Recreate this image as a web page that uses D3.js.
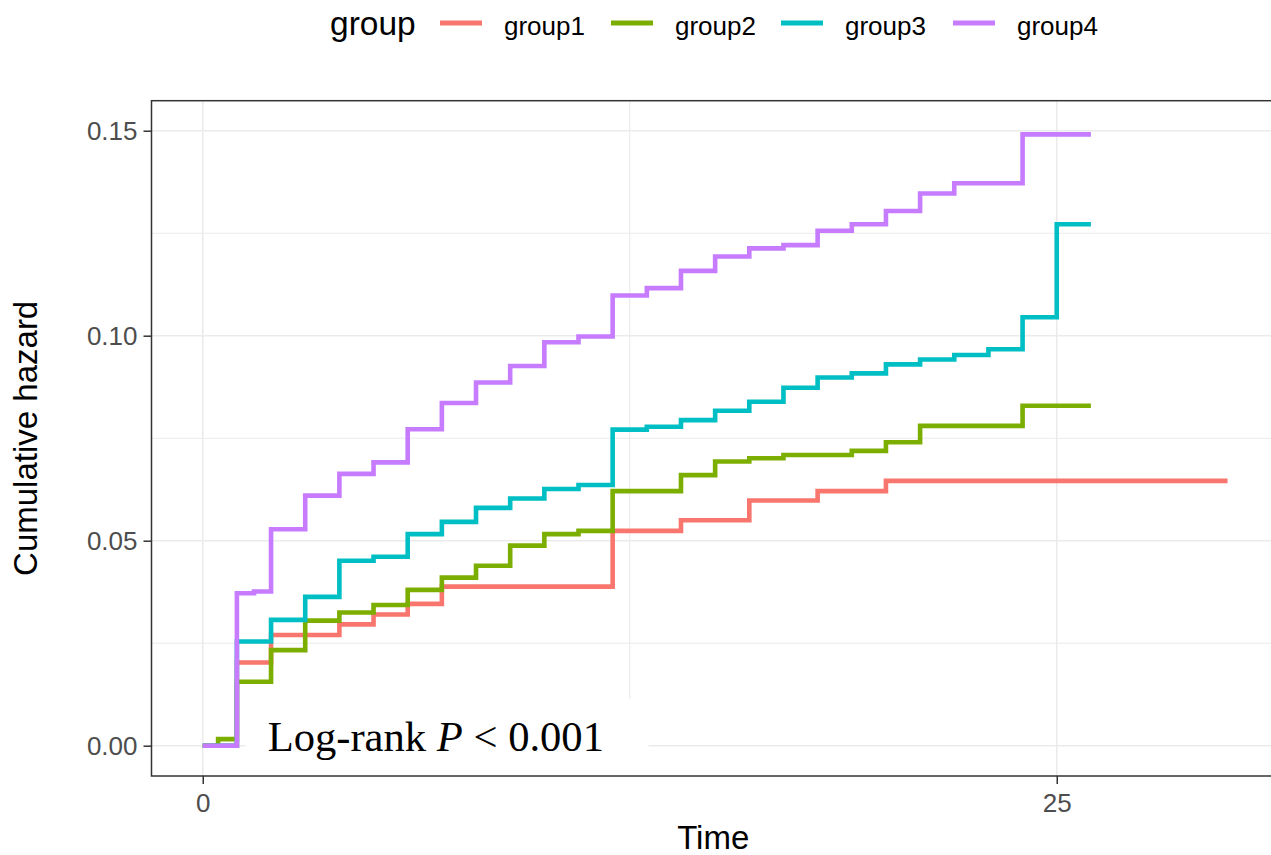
<!DOCTYPE html>
<html>
<head>
<meta charset="utf-8">
<script src="https://cdn.jsdelivr.net/npm/d3@7"></script>
<style>
  html, body { margin: 0; padding: 0; background: #fff; }
  svg { display: block; }
</style>
</head>
<body>
<svg id="chart" width="1271" height="855"></svg>
<script>
// ---------- data ----------
const groupNames = ["group1", "group2", "group3", "group4"];
const groupColors = ["#F8766D", "#7CAE00", "#00BFC4", "#C77CFF"];

const times1 = [0, 1, 2, 4, 5, 6, 7, 12, 14, 16, 18, 20, 30];
const hazard1 = [0, 0.0203, 0.0270, 0.0296, 0.0320, 0.0346, 0.0388, 0.0524, 0.0550, 0.0598, 0.0621, 0.0646, 0.0646];

const times2 = [0, 0.45, 1, 2, 3, 4, 5, 6, 7, 8, 9, 10, 11, 12, 14, 15, 16, 17, 19, 20, 21, 24, 26];
const hazard2 = [0, 0.0016, 0.0156, 0.0233, 0.0305, 0.0325, 0.0343, 0.0380, 0.0410, 0.0439, 0.0488, 0.0516, 0.0524, 0.0621, 0.0660, 0.0693, 0.0701, 0.0709, 0.0719, 0.0740, 0.0780, 0.0829, 0.0829];

const times3 = [0, 1, 2, 3, 4, 5, 6, 7, 8, 9, 10, 11, 12, 13, 14, 15, 16, 17, 18, 19, 20, 21, 22, 23, 24, 25, 26];
const hazard3 = [0, 0.0254, 0.0307, 0.0363, 0.0451, 0.0461, 0.0516, 0.0546, 0.0580, 0.0603, 0.0626, 0.0636, 0.0771, 0.0778, 0.0794, 0.0817, 0.0839, 0.0873, 0.0898, 0.0908, 0.0930, 0.0942, 0.0953, 0.0967, 0.1045, 0.1272, 0.1272];

const times4 = [0, 1, 1.5, 2, 3, 4, 5, 6, 7, 8, 9, 10, 11, 12, 13, 14, 15, 16, 17, 18, 19, 20, 21, 22, 24, 26];
const hazard4 = [0, 0.0372, 0.0376, 0.0528, 0.0610, 0.0663, 0.0691, 0.0772, 0.0836, 0.0886, 0.0926, 0.0984, 0.0998, 0.1098, 0.1116, 0.1158, 0.1193, 0.1213, 0.1221, 0.1256, 0.1272, 0.1304, 0.1347, 0.1372, 0.1491, 0.1491];

const xTicks = [0, 25];
const xMinor = [12.5];
const yTicks = [0, 0.05, 0.10, 0.15];
const yMinor = [0.025, 0.075, 0.125];

const annotationTime = 1.9;   // x-position (time units) of annotation start

// ---------- layout ----------
const svg = d3.select("#chart");
const panel = { left: 151.5, top: 100.7, right: 1279, bottom: 776 };

const x = d3.scaleLinear().domain([-1.5, 31.5]).range([panel.left, panel.left + 33 * 34.16]);
const y = d3.scaleLinear().domain([0, 0.15]).range([745.7, 130.7]);

const seriesTimes = [times1, times2, times3, times4];
const seriesHazard = [hazard1, hazard2, hazard3, hazard4];
const series = groupNames.map((g, i) => ({
  name: g, color: groupColors[i],
  pts: seriesTimes[i].map((t, j) => ({ t, h: seriesHazard[i][j] }))
}));

svg.append("defs").append("clipPath").attr("id", "clip")
  .append("rect")
  .attr("x", panel.left).attr("y", panel.top)
  .attr("width", panel.right - panel.left).attr("height", panel.bottom - panel.top);

const plot = svg.append("g").attr("clip-path", "url(#clip)");

// grid
plot.selectAll(".ymin").data(yMinor).join("line")
  .attr("x1", panel.left).attr("x2", panel.right)
  .attr("y1", d => y(d)).attr("y2", d => y(d))
  .attr("stroke", "#ebebeb").attr("stroke-width", 1.1);
plot.selectAll(".xmin").data(xMinor).join("line")
  .attr("y1", panel.top).attr("y2", panel.bottom)
  .attr("x1", d => x(d)).attr("x2", d => x(d))
  .attr("stroke", "#ebebeb").attr("stroke-width", 1.1);
plot.selectAll(".ymaj").data(yTicks).join("line")
  .attr("x1", panel.left).attr("x2", panel.right)
  .attr("y1", d => y(d)).attr("y2", d => y(d))
  .attr("stroke", "#ebebeb").attr("stroke-width", 1.6);
plot.selectAll(".xmaj").data(xTicks).join("line")
  .attr("y1", panel.top).attr("y2", panel.bottom)
  .attr("x1", d => x(d)).attr("x2", d => x(d))
  .attr("stroke", "#ebebeb").attr("stroke-width", 1.6);

// annotation background (label box)
plot.append("rect")
  .attr("x", x(1.25)).attr("y", 699)
  .attr("width", x(13.05) - x(1.25)).attr("height", 100)
  .attr("fill", "#fff");

// step lines
const line = d3.line().x(d => x(d.t)).y(d => y(d.h)).curve(d3.curveStepAfter);
plot.selectAll(".series").data(series).join("path")
  .attr("d", d => line(d.pts))
  .attr("fill", "none")
  .attr("stroke", d => d.color)
  .attr("stroke-width", 4.6)
  .attr("stroke-linejoin", "miter")
  .attr("stroke-linecap", "butt");

// annotation text
const ann = svg.append("text")
  .attr("x", x(annotationTime)).attr("y", 750.7)
  .attr("font-family", "'Liberation Serif', 'Times New Roman', serif")
  .attr("font-size", 42.6).attr("fill", "#000");
ann.append("tspan").text("Log-rank ");
ann.append("tspan").attr("font-style", "italic").text("P");
ann.append("tspan").text(" < 0.001");

// panel border
svg.append("rect")
  .attr("x", panel.left).attr("y", panel.top)
  .attr("width", panel.right - panel.left).attr("height", panel.bottom - panel.top)
  .attr("fill", "none").attr("stroke", "#333333").attr("stroke-width", 1.5);

// axes
const tickFont = "'Liberation Sans', Arial, sans-serif";
const yAxis = svg.append("g").attr("transform", `translate(${panel.left},0)`)
  .call(d3.axisLeft(y).tickValues(yTicks).tickFormat(d3.format(".2f")).tickSize(8).tickPadding(6));
const xAxis = svg.append("g").attr("transform", `translate(0,${panel.bottom})`)
  .call(d3.axisBottom(x).tickValues(xTicks).tickFormat(d3.format("d")).tickSize(8).tickPadding(10));
[yAxis, xAxis].forEach(a => {
  a.select(".domain").remove();
  a.selectAll(".tick line").attr("stroke", "#333333").attr("stroke-width", 1.5);
  a.selectAll(".tick text").attr("font-family", tickFont).attr("font-size", 26).attr("fill", "#4d4d4d");
});

// axis titles
svg.append("text")
  .attr("x", (panel.left + panel.right) / 2 - 2).attr("y", 849)
  .attr("text-anchor", "middle")
  .attr("font-family", tickFont).attr("font-size", 33).attr("fill", "#000")
  .text("Time");
svg.append("text")
  .attr("transform", `translate(37,${(panel.top + panel.bottom) / 2}) rotate(-90)`)
  .attr("text-anchor", "middle")
  .attr("font-family", tickFont).attr("font-size", 33).attr("fill", "#000")
  .text("Cumulative hazard");

// legend
const legend = svg.append("g");
legend.append("text")
  .attr("x", 330).attr("y", 35)
  .attr("font-family", tickFont).attr("font-size", 33.5).attr("fill", "#000")
  .text("group");
const keyX = [440, 611, 781, 953];
const items = legend.selectAll(".item").data(series).join("g")
  .attr("transform", (d, i) => `translate(${keyX[i]},0)`);
items.append("line")
  .attr("x1", 0).attr("x2", 42).attr("y1", 23).attr("y2", 23)
  .attr("stroke", d => d.color).attr("stroke-width", 5);
items.append("text")
  .attr("x", 64).attr("y", 35)
  .attr("font-family", tickFont).attr("font-size", 26).attr("fill", "#000")
  .text(d => d.name);
</script>
</body>
</html>
